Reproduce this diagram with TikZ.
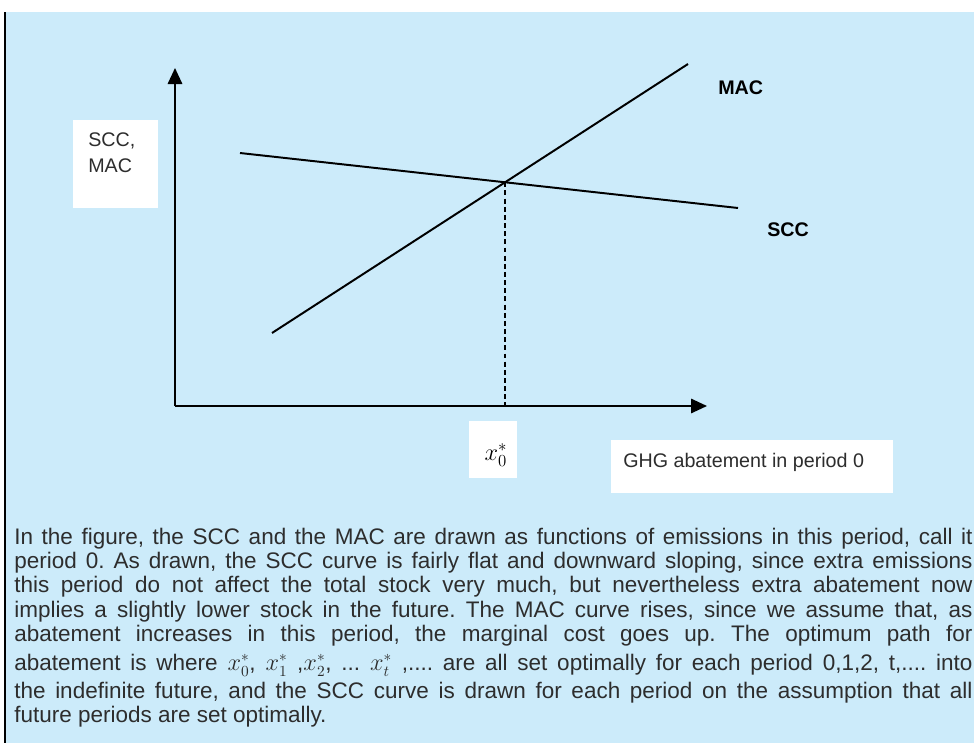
\documentclass[tikz,border=0pt]{standalone}
\usepackage{fontspec}
\setmainfont{Liberation Sans}
\usetikzlibrary{arrows.meta,intersections}

\definecolor{panelblue}{RGB}{204,235,250}
\definecolor{inkgray}{RGB}{45,45,45}

\tikzset{
  axis/.style={line width=1.4pt,-{Triangle[length=0.4cm,width=0.36cm]}},
  curve/.style={line width=1.4pt},
  whitebox/.style={fill=white},
  boxtext/.style={font=\fontsize{14}{17}\selectfont, text=inkgray, inner sep=0pt},
  curvelabel/.style={font=\fontsize{14}{17}\selectfont\bfseries, inner sep=0pt},
  bodytext/.style={font=\fontsize{16}{17.2}\selectfont, text=inkgray, inner sep=0pt},
}

\begin{document}
\begin{tikzpicture}[x=0.025cm,y=-0.025cm]
    \useasboundingbox (0,0) rectangle (974,743);
    \fill[white] (0,0) rectangle (974,743);
    \fill[panelblue] (5,12) rectangle (974,743);
    \draw[line width=1.2pt] (5,12) -- (5,743);

    % axes
    \coordinate (O) at (175,406);
    \coordinate (ytop) at (175,68);
    \coordinate (xend) at (707,406);
    \draw[axis] (O) -- (ytop);
    \draw[axis] (O) -- (xend);

    % curves
    \coordinate (mac0) at (272,333);
    \coordinate (mac1) at (688,64);
    \coordinate (scc0) at (240,153);
    \coordinate (scc1) at (738,208);
    \draw[curve, name path=mac] (mac0) -- (mac1);
    \draw[curve, name path=scc] (scc0) -- (scc1);
    \path[name intersections={of=mac and scc, by=opt}];
    \draw[line width=1pt, dash pattern=on 3.5pt off 2.3pt] (opt) -- (opt |- O);

    % labels
    \fill[whitebox] (73,120) rectangle (158,208);
    \node[boxtext, anchor=base west] (ylabA) at (88,146) {SCC,};
    \node[boxtext, anchor=base west] (ylabB) at (88,172) {MAC};

    \fill[whitebox] (469,421) rectangle (517,478);
    \node[font=\fontsize{17}{19}\selectfont, inner sep=0pt] (xopt) at (496,455) {$x_0^{*}$};

    \fill[whitebox] (611,440) rectangle (893,493);
    \node[boxtext, anchor=base west] (xlab) at (623,467) {GHG abatement in period 0};

    \node[curvelabel, anchor=base west] (maclab) at (718,94) {MAC};
    \node[curvelabel, anchor=base west] (scclab) at (767,236) {SCC};

    % caption text
    \node[bodytext, anchor=north west, text width=23.95cm, align=justify,
          execute at begin node={\frenchspacing\tolerance=10000\hbadness=10000}] (caption) at (14,528)
    {In the figure, the SCC and the MAC are drawn as functions of emissions in this period, call it\linebreak
     period 0. As drawn, the SCC curve is fairly flat and downward sloping, since extra emissions\linebreak
     this period do not affect the total stock very much, but nevertheless extra abatement now\linebreak
     implies a slightly lower stock in the future. The MAC curve rises, since we assume that, as\linebreak
     abatement increases in this period, the marginal cost goes up. The optimum path for\linebreak
     abatement is where \rule[-7.3pt]{0pt}{23.9pt}$x_0^{*}$, $x_1^{*}$ ,$x_2^{*}$, ... $x_t^{*}$ ,.... are all set optimally for each period 0,1,2, t,.... into\linebreak
     the indefinite future, and the SCC curve is drawn for each period on the assumption that all\linebreak
     future periods are set optimally.};
\end{tikzpicture}
\end{document}
